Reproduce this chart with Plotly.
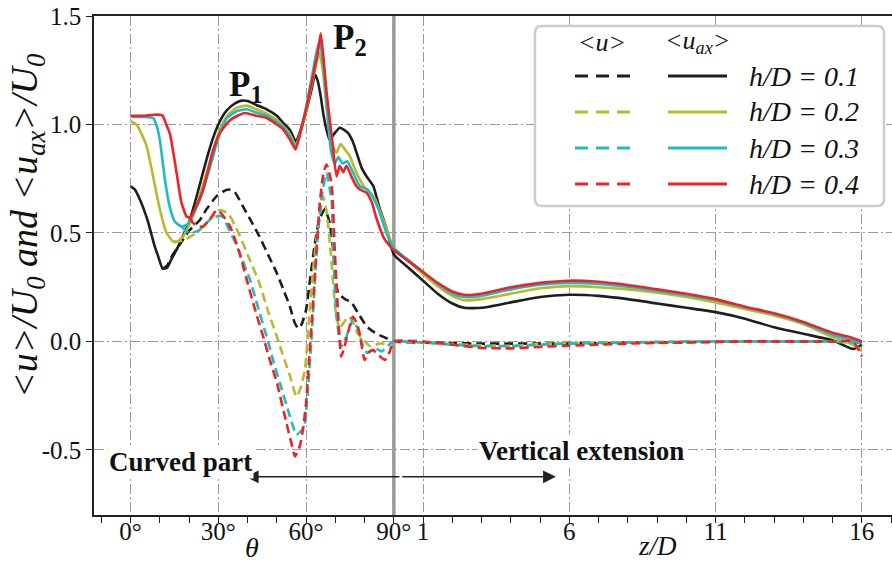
import plotly.graph_objects as go

# ---------------- data ----------------
# curved part: theta in degrees ; vertical extension: z/D
# <u_ax>/U0 (solid)
uax01_theta = [0,1.5,3,4.5,6,8,9.5,11,12.5,14,16,18,20,22,24,26,28,30,32,34,36,38,40,43,46.5,50,52,54.5,56.5,58,60,62,63,64,65,66,67,68,69.5,71.5,73,74.4,76,77.5,79,80.7,83,85,87.5,90]
uax01_val = [0.715,0.70,0.66,0.61,0.55,0.45,0.39,0.335,0.34,0.38,0.43,0.49,0.55,0.64,0.74,0.84,0.93,1.0,1.05,1.08,1.10,1.11,1.108,1.09,1.07,1.04,1.01,0.975,0.92,0.97,1.06,1.17,1.23,1.20,1.13,1.04,0.975,0.93,0.955,0.985,0.975,0.96,0.92,0.86,0.80,0.76,0.715,0.62,0.52,0.40]
uax02_theta = [0,2,4,5.5,7.7,10,12.3,14.6,16,18,21.4,24,26,28,30.5,33,36,39.6,43,46.5,50,52,54.5,56.5,58,60,62,63.5,64.5,65.5,67,68.5,70.4,71.8,73,75,76.5,78.4,80,81.8,83.5,85,87.5,90]
uax02_val = [1.015,1.0,0.95,0.90,0.76,0.61,0.50,0.46,0.46,0.485,0.577,0.69,0.777,0.87,0.976,1.04,1.075,1.087,1.07,1.05,1.02,0.995,0.955,0.905,0.96,1.06,1.19,1.28,1.33,1.27,1.08,0.92,0.87,0.91,0.89,0.853,0.80,0.746,0.71,0.685,0.66,0.61,0.52,0.43]
uax03_theta = [0,4,7.7,9,10,11.7,13.4,15.1,17.4,19.5,21.5,23.7,26,28.2,30.5,33,36,39.6,43,46.5,50,52,54.5,56.5,58,60,62,63.5,64.5,65.5,67,68.5,69.8,71,72.5,74,76,78.4,81,83,85,87.5,90]
uax03_val = [1.035,1.035,1.03,0.99,0.93,0.75,0.62,0.553,0.53,0.54,0.59,0.654,0.75,0.853,0.96,1.03,1.06,1.07,1.055,1.04,1.01,0.99,0.945,0.895,0.96,1.08,1.22,1.33,1.38,1.32,1.10,0.88,0.82,0.85,0.82,0.83,0.78,0.715,0.70,0.66,0.60,0.50,0.43]
uax04_theta = [0,4,8,10,11,12.2,13.4,14.5,15.7,17.4,19.1,20.3,22,24.8,28.2,30.5,34,39,43,46.5,50,52,54.5,56.4,58,60,62,64,65,66,67,68,69,70.4,71.5,72.7,73.8,75.5,77,78.4,80.7,82.5,84,86.5,88.6,90]
uax04_val = [1.04,1.04,1.045,1.045,1.04,1.0,0.96,0.88,0.78,0.64,0.577,0.57,0.61,0.70,0.88,0.96,1.02,1.053,1.04,1.03,1.0,0.98,0.93,0.885,0.96,1.07,1.2,1.33,1.42,1.3,1.15,1.03,0.92,0.76,0.81,0.78,0.81,0.76,0.72,0.70,0.685,0.64,0.57,0.48,0.44,0.42]

z_solid = [0,0.5,1,1.5,2,2.4,3,4,5,6,7,8,9,10,11,12,13,14,15,15.7,16]
uax01_zval = [0.40,0.34,0.28,0.22,0.175,0.155,0.155,0.18,0.205,0.215,0.21,0.195,0.175,0.155,0.135,0.105,0.065,0.035,0.005,-0.035,-0.015]
uax02_zval = [0.43,0.37,0.31,0.255,0.21,0.19,0.195,0.22,0.245,0.255,0.25,0.24,0.225,0.205,0.18,0.15,0.12,0.08,0.02,-0.015,-0.045]
uax03_zval = [0.435,0.375,0.32,0.265,0.22,0.205,0.21,0.24,0.262,0.27,0.265,0.252,0.233,0.213,0.19,0.157,0.126,0.085,0.03,0.005,-0.01]
uax04_zval = [0.42,0.37,0.32,0.27,0.23,0.215,0.22,0.25,0.27,0.28,0.275,0.26,0.24,0.22,0.195,0.16,0.13,0.09,0.04,0.015,0.0]

# <u>/U0 (dashed)
u01_theta = [11,12.5,14,17,20,23.7,26,29.4,31.5,33.5,35.5,38.5,41,44,47,50,52.5,54.5,56,57.3,58.5,60,61.5,63,64.5,66.4,68,69.3,70.2,71,73.3,75.5,77.8,80.7,83,85,87.5,90]
u01_val = [0.335,0.35,0.39,0.45,0.51,0.56,0.61,0.67,0.69,0.70,0.69,0.62,0.56,0.485,0.40,0.315,0.23,0.16,0.09,0.06,0.08,0.146,0.30,0.45,0.56,0.61,0.55,0.42,0.27,0.223,0.195,0.18,0.13,0.07,0.045,0.03,0.015,0.0]
u02_theta = [14.6,16,18,20,22.5,25,27,29,30.5,32,33.4,35.5,37.4,40,44,47,50,52,54.5,56.7,58,59.6,61,62.4,64,65.8,67,68.5,70,70.8,71.5,73,74.4,76,77.5,79.5,82,85,87.5,90]
u02_val = [0.46,0.46,0.465,0.48,0.50,0.53,0.56,0.59,0.605,0.60,0.59,0.54,0.485,0.40,0.27,0.14,0.023,-0.06,-0.16,-0.254,-0.22,-0.13,0.1,0.33,0.52,0.67,0.6,0.4,0.15,0.09,0.06,0.09,0.115,0.09,0.04,0.008,-0.023,-0.01,-0.01,0.0]
u03_theta = [17.4,19,20.3,22,23.7,25.5,27,29,30.5,31.5,33.5,35,37.5,40.8,43.5,46.5,49,51,54.5,56.7,58.5,59.6,60.7,61.9,64,65.5,67,68.7,69.3,70.4,72,73.8,76,77.8,79.5,81,83.4,85.8,88,90]
u03_val = [0.53,0.51,0.50,0.505,0.515,0.54,0.56,0.575,0.578,0.575,0.52,0.48,0.40,0.285,0.16,0.023,-0.10,-0.19,-0.346,-0.43,-0.41,-0.377,-0.21,0.023,0.485,0.68,0.777,0.65,0.42,0.115,-0.023,0.023,0.10,0.054,-0.023,-0.054,-0.03,-0.046,-0.02,0.0]
u04_theta = [20.3,21.4,23,24.8,27,29.4,31,34,37,39.7,42.5,45.3,47.5,50,53.3,55,56.2,57.9,59,60,61.2,62.4,64.7,66,67,68.7,69.8,71,72,73,74,76,77.5,78.5,80,81.5,83,84.5,87,88.5,90]
u04_val = [0.57,0.546,0.53,0.53,0.56,0.605,0.59,0.53,0.42,0.285,0.15,0.023,-0.08,-0.19,-0.377,-0.47,-0.53,-0.48,-0.40,-0.284,-0.05,0.177,0.64,0.78,0.815,0.73,0.42,0.115,-0.07,-0.03,0.023,0.115,0.08,0.023,-0.085,-0.05,-0.04,-0.06,-0.085,-0.05,0.0]

z_dash = [0,1,2,3,4,5,6,7,8,9,10,11,12,13,14,15,15.7,16]
u01_zval = [0,-0.005,-0.008,-0.01,-0.01,-0.01,-0.01,-0.008,-0.006,-0.005,-0.003,-0.002,0,0,0,0,-0.002,-0.005]
u02_zval = [0,-0.005,-0.012,-0.018,-0.02,-0.012,-0.008,-0.006,-0.004,-0.002,-0.001,0,0,0,0,0,-0.01,-0.04]
u03_zval = [0,-0.005,-0.015,-0.022,-0.022,-0.015,-0.01,-0.007,-0.005,-0.003,-0.001,0,0,0,0,0,-0.005,-0.02]
u04_zval = [0,0,-0.015,-0.03,-0.032,-0.025,-0.02,-0.015,-0.01,-0.007,-0.005,-0.002,0,0,0,0,0,-0.07]

labels = ["h/D = 0.1", "h/D = 0.2", "h/D = 0.3", "h/D = 0.4"]
colors = ["#1e1e1e", "#b9b92c", "#1fbcbf", "#ec2328"]

theta_ticks = [0, 30, 60, 90]
z_ticks = [1, 6, 11, 16]
y_ticks = [-0.5, 0.0, 0.5, 1.0, 1.5]

# composite x-axis: 10 deg of theta = 1 z/D unit, z/D = 0 at theta = 90 deg
def th2x(t):
    return [v / 10.0 for v in t]

def z2x(z):
    return [9.0 + v for v in z]

FONT = "Liberation Serif, Times New Roman, serif"
fig = go.Figure()

solid = [(uax01_theta, uax01_val, uax01_zval), (uax02_theta, uax02_val, uax02_zval),
         (uax03_theta, uax03_val, uax03_zval), (uax04_theta, uax04_val, uax04_zval)]
dashed = [(u01_theta, u01_val, u01_zval), (u02_theta, u02_val, u02_zval),
          (u03_theta, u03_val, u03_zval), (u04_theta, u04_val, u04_zval)]

for i in range(4):
    t, v, zv = dashed[i]
    fig.add_trace(go.Scatter(x=th2x(t) + z2x(z_dash[1:]), y=v + zv[1:], mode="lines",
                             line=dict(color=colors[i], width=2.6, dash="9px,5px", shape="spline", smoothing=0.5),
                             showlegend=False, hoverinfo="skip"))
    t, v, zv = solid[i]
    fig.add_trace(go.Scatter(x=th2x(t) + z2x(z_solid[1:]), y=v + zv[1:], mode="lines",
                             line=dict(color=colors[i], width=2.6, shape="spline", smoothing=0.5),
                             showlegend=False, hoverinfo="skip"))

tickvals = th2x(theta_ticks) + z2x(z_ticks)
ticktext = [f"{t}°" for t in theta_ticks]
ticktext += [str(z) for z in z_ticks]

GRID = "#9a9a9a"
DD = "10px,3px,2px,3px"
fig.update_xaxes(range=[-1.25, 26.03], tickmode="array", tickvals=tickvals, ticktext=ticktext,
                 showline=True, linecolor="#222", linewidth=1.5, mirror=True,
                 ticks="outside", ticklen=6, tickcolor="#222", tickwidth=1.2,
                 ticklabelstandoff=-13,
                 minor=dict(tickmode="linear", tick0=0, dtick=1, ticks="outside", ticklen=6,
                            tickcolor="#222", tickwidth=1.2, showgrid=False),
                 showgrid=True, gridcolor=GRID, gridwidth=1, griddash=DD, zeroline=False,
                 tickfont=dict(family=FONT, size=25, color="#111"))
fig.update_yaxes(range=[-0.8, 1.5], tickmode="array", tickvals=y_ticks,
                 ticktext=[f"{v:.1f}" for v in y_ticks],
                 showline=True, linecolor="#222", linewidth=1.5,
                 ticks="outside", ticklen=6, tickcolor="#222", tickwidth=1.2,
                 showgrid=True, gridcolor=GRID, gridwidth=1, griddash=DD, zeroline=False,
                 tickfont=dict(family=FONT, size=25, color="#111"))

# 90 deg / z=0 junction line
fig.add_shape(type="line", x0=9, x1=9, xref="x", y0=0, y1=1, yref="paper",
              line=dict(color="#999999", width=3.5), layer="between")

# arrows
arr_y = -0.624
mid = 9.24
for tip in (3.94, 14.54):
    fig.add_annotation(x=tip, y=arr_y, ax=mid, ay=arr_y, axref="x", ayref="y", xref="x", yref="y",
                       showarrow=True, arrowhead=2, arrowsize=1.6, arrowwidth=1.6, arrowcolor="#222", text="")

def px(xp):
    return (xp - 94) / 798.0

def py(yp):
    return (515 - yp) / 499.0

def txt(x, y, text, size, **kw):
    d = dict(x=px(x), y=py(y), xref="paper", yref="paper", showarrow=False, text=text,
             xanchor="center", yanchor="middle", font=dict(family=FONT, size=size, color="#111"))
    d.update(kw)
    return d

ann = []
ann.append(txt(27, 226, "<i>&lt;u&gt;/U<sub>0</sub> and &lt;u<sub>ax</sub>&gt;/U<sub>0</sub></i>", 38, textangle=-90))
ann.append(txt(252, 547, "<i>θ</i>", 28))
ann.append(txt(657, 546, "<i>z/D</i>", 27))
ann.append(txt(246, 86, "<b>P<sub>1</sub></b>", 35))
ann.append(txt(350, 39, "<b>P<sub>2</sub></b>", 35))
ann.append(txt(180, 462, "<b>Curved part</b>", 27, bgcolor="white", borderpad=1))
ann.append(txt(581, 451, "<b>Vertical extension</b>", 27, bgcolor="white", borderpad=1))

# legend (drawn manually)
x0, x1 = px(535), px(884)
y0, y1 = py(206), py(26)
rx, ry = 7 / 798.0, 7 / 499.0
path = (f"M {x0+rx},{y0} L {x1-rx},{y0} Q {x1},{y0} {x1},{y0+ry} L {x1},{y1-ry} Q {x1},{y1} {x1-rx},{y1} "
        f"L {x0+rx},{y1} Q {x0},{y1} {x0},{y1-ry} L {x0},{y0+ry} Q {x0},{y0} {x0+rx},{y0} Z")
fig.add_shape(type="path", path=path, xref="paper", yref="paper",
              line=dict(color="#cccccc", width=2.5), fillcolor="white", layer="above")
ann.append(txt(602, 42, "<i>&lt;u&gt;</i>", 26))
ann.append(txt(697, 42, "<i>&lt;u<sub>ax</sub>&gt;</i>", 26))
rows = [76, 112, 148, 184]
for i in range(4):
    yy = rows[i]
    fig.add_shape(type="line", xref="paper", yref="paper", x0=px(575), x1=px(631), y0=py(yy), y1=py(yy),
                  line=dict(color=colors[i], width=3, dash="13px,8px"), layer="above")
    fig.add_shape(type="line", xref="paper", yref="paper", x0=px(668), x1=px(727), y0=py(yy), y1=py(yy),
                  line=dict(color=colors[i], width=3), layer="above")
    ann.append(txt(747, yy, f"<i>{labels[i]}</i>", 28, xanchor="left"))

for a in ann:
    fig.add_annotation(**a)

fig.update_layout(width=892, height=561, margin=dict(l=94, r=0, t=16, b=46),
                  plot_bgcolor="white", paper_bgcolor="white", showlegend=False,
                  font=dict(family=FONT, color="#111"))

fig.write_html("out.html")
